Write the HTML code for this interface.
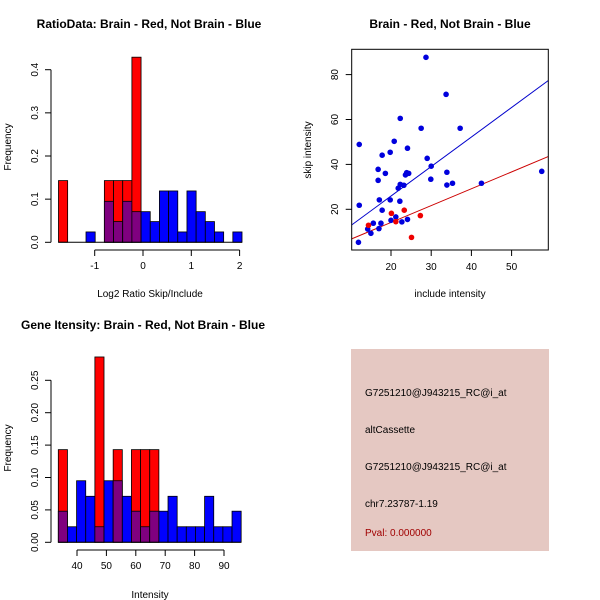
<!DOCTYPE html>
<html><head><meta charset="utf-8"><style>
body{margin:0;background:#fff}
svg{display:block;font-family:"Liberation Sans",sans-serif}
</style></head><body>
<svg id="s" width="600" height="600" viewBox="0 0 600 600">
<rect width="600" height="600" fill="#fff"/>
<text x="149" y="28" font-size="12" font-weight="bold" text-anchor="middle">RatioData: Brain - Red, Not Brain - Blue</text>
<text x="450" y="28" font-size="12" font-weight="bold" text-anchor="middle">Brain - Red, Not Brain - Blue</text>
<text x="143" y="329" font-size="12" font-weight="bold" text-anchor="middle">Gene Itensity: Brain - Red, Not Brain - Blue</text>
<text x="150" y="297" font-size="10" text-anchor="middle">Log2 Ratio Skip/Include</text>
<text x="450" y="297" font-size="10" text-anchor="middle">include intensity</text>
<text x="150" y="598" font-size="10" text-anchor="middle">Intensity</text>
<text transform="translate(11,147) rotate(-90)" font-size="10" text-anchor="middle">Frequency</text>
<text transform="translate(311,150) rotate(-90)" font-size="10" text-anchor="middle">skip intensity</text>
<text transform="translate(11,448) rotate(-90)" font-size="10" text-anchor="middle">Frequency</text>
<g>
<rect x="351" y="349" width="198" height="202" fill="#e5c8c2"/>
<text x="365" y="396" font-size="10">G7251210@J943215_RC@i_at</text>
<text x="365" y="433" font-size="10">altCassette</text>
<text x="365" y="470" font-size="10">G7251210@J943215_RC@i_at</text>
<text x="365" y="507" font-size="10">chr7.23787-1.19</text>
<text x="365" y="536" font-size="10" fill="#a00000">Pval: 0.000000</text>
</g>
<g id="g1"></g>
<g id="g2"></g>
<g id="g3"></g>
</svg>
<script>
// Ratio histogram data
const ratioBinStart = -1.75;
const ratioBinWidth = 0.19;
const ratioRed = [0.143,0,0,0,0,0.143,0.143,0.143,0.429,0,0,0,0,0,0,0,0,0,0,0];
const ratioBlue = [0,0,0,0.024,0,0.095,0.048,0.095,0.071,0.071,0.048,0.119,0.119,0.024,0.119,0.071,0.048,0.024,0,0.024];
const ratioXTicks = [-1,0,1,2];
const ratioYTicks = [0,0.1,0.2,0.3,0.4];
// Intensity histogram data
const intBinStart = 33.64;
const intBinWidth = 3.11;
const intRed = [0.143,0,0,0,0.286,0,0.143,0,0.143,0.143,0.143,0,0,0,0,0,0,0,0,0];
const intBlue = [0.048,0.024,0.095,0.071,0.024,0.095,0.095,0.071,0.048,0.024,0.048,0.048,0.071,0.024,0.024,0.024,0.071,0.024,0.024,0.048];
const intXTicks = [40,50,60,70,80,90];
const intYTicks = [0,0.05,0.10,0.15,0.20,0.25];
const intYLabels = ["0.00","0.05","0.10","0.15","0.20","0.25"];
// Scatter data
const blueX = [11.9,12.1,12.1,14.2,15.0,15.6,17.0,17.1,16.8,16.8,17.5,17.8,17.8,18.6,19.8,19.8,20.0,20.8,21.2,21.8,22.2,22.3,22.3,22.7,23.2,23.6,23.9,24.4,24.1,24.1,27.5,28.7,29.0,29.9,30.0,33.7,33.9,33.9,35.3,37.2,42.5,57.5];
const blueY = [5.3,21.8,48.9,11.2,9.3,13.8,11.4,24.2,32.9,37.8,13.8,19.6,44.1,36.0,24.2,45.4,15.1,50.3,16.6,29.4,23.6,60.5,31.1,14.4,30.7,35.3,36.3,36.0,47.2,15.5,56.1,87.7,42.7,33.4,39.2,71.2,36.5,30.8,31.6,56.1,31.6,36.9];
const redX = [14.4,20.1,21.2,23.3,25.1,27.3];
const redY = [12.9,18.2,14.5,19.6,7.5,17.2];
const blueFit = [-0.41,1.315];
const redFit = [-0.85,0.75];
const scXTicks = [20,30,40,50];
const scYTicks = [20,40,60,80];

const NS="http://www.w3.org/2000/svg";
function mk(p,t,a){const e=document.createElementNS(NS,t);for(const k in a)e.setAttribute(k,a[k]);p.appendChild(e);return e;}

function hist(g,x,y,start,w,red,blue,xt,yt,yl,y0,xAxisY){
  for(let i=0;i<red.length;i++){
    const a=x(start+i*w),b=x(start+(i+1)*w);
    const m=Math.min(red[i],blue[i]);
    if(red[i]>0){const r=mk(g,'rect',{x:a,y:y(red[i]),width:b-a,height:y0-y(red[i]),fill:'#ff0000',stroke:'#000','stroke-width':0.8});
      
      }
    if(blue[i]>red[i]){const r=mk(g,'rect',{x:a,y:y(blue[i]),width:b-a,height:y0-y(blue[i]),fill:'#0000ff',stroke:'#000','stroke-width':0.8});
      
      }
    if(m>0){const r=mk(g,'rect',{x:a,y:y(m),width:b-a,height:y0-y(m),fill:'#7f007f',stroke:'#000','stroke-width':0.8});
      
      }
  }
  mk(g,'line',{x1:x(start),x2:x(start+red.length*w),y1:y0,y2:y0,stroke:'#000'});
  // y axis
  mk(g,'line',{x1:51,x2:51,y1:y(yt[0]),y2:y(yt[yt.length-1]),stroke:'#000'});
  yt.forEach((v,i)=>{mk(g,'line',{x1:45,x2:51,y1:y(v),y2:y(v),stroke:'#000'});
    const t=mk(g,'text',{transform:`translate(38,${y(v)}) rotate(-90)`,'font-size':10,'text-anchor':'middle'});t.textContent=yl[i];
    
    });
  mk(g,'line',{x1:x(xt[0]),x2:x(xt[xt.length-1]),y1:xAxisY,y2:xAxisY,stroke:'#000'});
  xt.forEach(v=>{mk(g,'line',{x1:x(v),x2:x(v),y1:xAxisY,y2:xAxisY+6,stroke:'#000'});
    const t=mk(g,'text',{x:x(v),y:xAxisY+19,'font-size':10,'text-anchor':'middle'});t.textContent=String(v).replace('-','\u2212').replace('\u2212','-');
    
    });
}
// ratio
{const x=v=>143+v*48.3, y=v=>242.3-v*431.5;
 hist(document.getElementById('g1'),x,y,ratioBinStart,ratioBinWidth,ratioRed,ratioBlue,ratioXTicks,ratioYTicks,ratioYTicks.map(String).map(s=>s==='0'?'0.0':s),242.3,250);}
// intensity
{const x=v=>77+(v-40)*2.94, y=v=>542.3-v*648;
 hist(document.getElementById('g2'),x,y,intBinStart,intBinWidth,intRed,intBlue,intXTicks,intYTicks,intYLabels,542.3,550);}
// scatter
{const g=document.getElementById('g3');
 const x=v=>391+(v-20)*4.02, y=v=>209.3-(v-20)*2.245;
 const cp=mk(g,'clipPath',{id:'cp'});mk(cp,'rect',{x:351.7,y:49.3,width:196.6,height:200.7});
 [[blueFit,'#0000cc'],[redFit,'#cc0000']].forEach(([f,c])=>{const x0=10.2,x1=59.1;
   const l=mk(g,'line',{x1:x(x0),y1:y(f[0]+f[1]*x0),x2:x(x1),y2:y(f[0]+f[1]*x1),stroke:c,'clip-path':'url(#cp)'});
   
   });
 blueX.forEach((v,i)=>{const c=mk(g,'circle',{cx:x(v),cy:y(blueY[i]),r:2.8,fill:'#0000dd'});
   
   });
 redX.forEach((v,i)=>{const c=mk(g,'circle',{cx:x(v),cy:y(redY[i]),r:2.8,fill:'#ee0000'});
   
   });
 mk(g,'rect',{x:351.7,y:49.3,width:196.6,height:200.7,fill:'none',stroke:'#000'});
 scXTicks.forEach(v=>{mk(g,'line',{x1:x(v),x2:x(v),y1:250,y2:256,stroke:'#000'});
   const t=mk(g,'text',{x:x(v),y:270,'font-size':10,'text-anchor':'middle'});t.textContent=v;
   
   });
 scYTicks.forEach(v=>{mk(g,'line',{x1:345.7,x2:351.7,y1:y(v),y2:y(v),stroke:'#000'});
   const t=mk(g,'text',{transform:`translate(338,${y(v)}) rotate(-90)`,'font-size':10,'text-anchor':'middle'});t.textContent=v;
   
   });
}
</script>
</body></html>
